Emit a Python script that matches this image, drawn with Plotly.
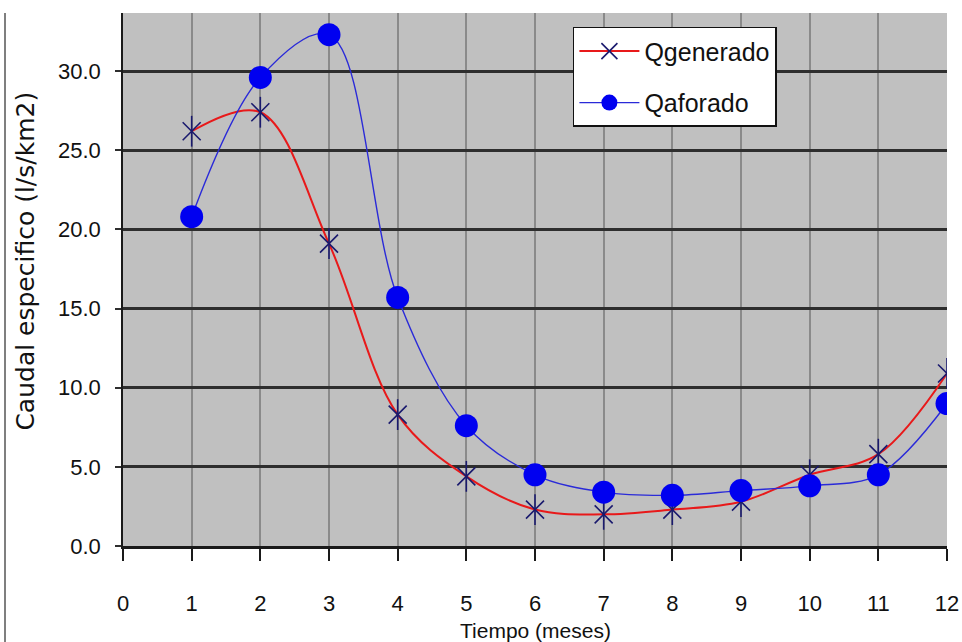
import plotly.graph_objects as go

# Monthly specific discharge (l/s/km2)
meses = [1, 2, 3, 4, 5, 6, 7, 8, 9, 10, 11, 12]
q_generado = [26.2, 27.4, 19.1, 8.3, 4.4, 2.3, 2.0, 2.3, 2.8, 4.5, 5.8, 10.9]
q_aforado = [20.8, 29.6, 32.3, 15.7, 7.6, 4.5, 3.4, 3.2, 3.5, 3.8, 4.5, 9.0]

x_ticks = list(range(0, 13))
y_ticks = [0, 5, 10, 15, 20, 25, 30]

SANS = "Liberation Sans, Arial, sans-serif"

fig = go.Figure()

# Qgenerado: red smoothed line with a six-armed star (x plus vertical bar)
fig.add_trace(go.Scatter(
    x=meses, y=q_generado, name="Qgenerado", legendgroup="gen",
    mode="lines+markers",
    line=dict(color="#e8191a", width=2, shape="spline", smoothing=1.0),
    marker=dict(symbol="x-thin-open", size=18, color="#1a1a6e",
                line=dict(color="#1a1a6e", width=1.6)),
))
fig.add_trace(go.Scatter(
    x=meses, y=q_generado, showlegend=False, hoverinfo="skip",
    legendgroup="gen", mode="markers",
    marker=dict(symbol="line-ns-open", size=22, color="#1a1a6e",
                line=dict(color="#1a1a6e", width=1.6)),
))

# Qaforado: blue smoothed line with filled circles
fig.add_trace(go.Scatter(
    x=meses, y=q_aforado, name="Qaforado", legendgroup="afo",
    mode="lines+markers",
    line=dict(color="#2a2ad8", width=1.4, shape="spline", smoothing=1.0),
    marker=dict(symbol="circle", size=23, color="#0000f0",
                line=dict(width=0)),
))

# outer chart border on the left
fig.add_shape(type="line", xref="paper", yref="paper",
              x0=-0.1432, x1=-0.1432, y0=-0.2, y1=1.0,
              line=dict(color="#555555", width=1.5))

fig.add_annotation(
    text="Tiempo (meses)", x=6.0, xref="x", y=-0.158, yref="paper",
    showarrow=False, font=dict(family=SANS, size=21, color="#111111"),
    xanchor="center", yanchor="middle",
)
fig.add_annotation(
    text="Caudal especifico (l/s/km2)", x=-0.118, xref="paper",
    y=0.535, yref="paper", textangle=-90,
    showarrow=False, font=dict(family="DejaVu Sans, Arial, sans-serif",
                               size=25, color="#111111"),
    xanchor="center", yanchor="middle",
)

fig.update_layout(
    width=962, height=642,
    margin=dict(l=123, r=15, t=13, b=96),
    paper_bgcolor="white",
    plot_bgcolor="#c0c0c0",
    showlegend=True,
    legend=dict(
        x=0.546, y=0.974, xanchor="left", yanchor="top",
        bgcolor="white", bordercolor="#111111", borderwidth=1.5,
        font=dict(family=SANS, size=25, color="#111111"),
        traceorder="grouped", tracegroupgap=16,
        itemwidth=60,
    ),
    xaxis=dict(
        range=[0, 12], tickvals=x_ticks, ticktext=[str(v) for v in x_ticks],
        showgrid=True, gridcolor="#8a8a8a", gridwidth=1.6,
        zeroline=False, automargin=False,
        showline=True, linecolor="#1a1a1a", linewidth=3,
        ticks="outside", ticklen=12, tickwidth=2, tickcolor="#1a1a1a",
        ticklabelstandoff=24,
        tickfont=dict(family=SANS, size=22, color="#111111"),
    ),
    yaxis=dict(
        range=[0, 33.67], tickvals=y_ticks,
        ticktext=[f"{v:.1f}" for v in y_ticks],
        showgrid=True, gridcolor="#2e2e2e", gridwidth=3,
        zeroline=False, automargin=False,
        showline=True, linecolor="#1a1a1a", linewidth=1.5,
        ticks="outside", ticklen=6, tickwidth=2, tickcolor="#2e2e2e",
        ticklabelstandoff=10,
        tickfont=dict(family=SANS, size=22, color="#111111"),
    ),
)

fig.write_html("out.html")
